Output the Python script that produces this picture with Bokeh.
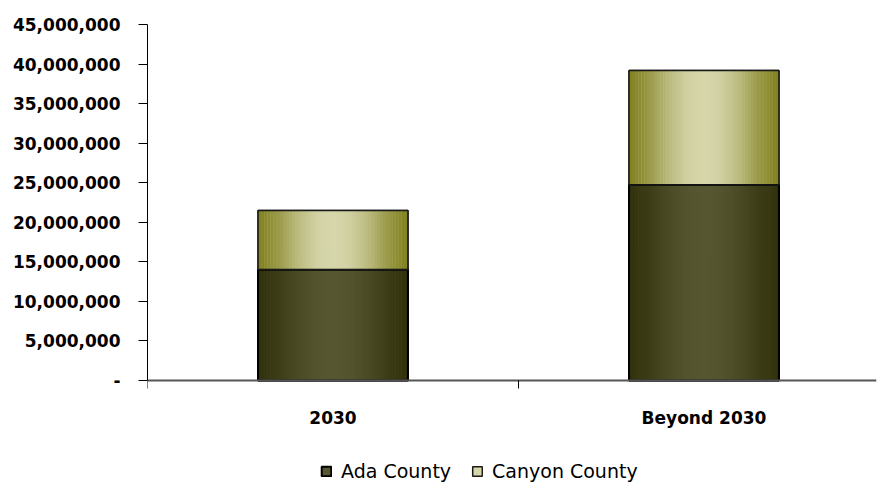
import math
from bokeh.plotting import figure
from bokeh.models import (ColumnDataSource, Range1d, FixedTicker, LinearAxis,
                          NumeralTickFormatter, Legend, LegendItem)
from bokeh.embed import file_html
from bokeh.resources import INLINE

# ---- data ----
categories = ["2030", "Beyond 2030"]
ada_county = [14000000, 24700000]
canyon_county = [7500000, 14500000]
series_names = ["Ada County", "Canyon County"]
y_ticks = [0, 5000000, 10000000, 15000000, 20000000, 25000000,
           30000000, 35000000, 40000000, 45000000]
Y_MAX = 45000000

# ---- styling / layout ----
AX_FONT = "DejaVu Sans"
LEG_FONT = "DejaVu Sans"
W, H = 878, 490
TOP, LEFT = 24, 147
ZERO_PX = 380            # pixel row of the value axis' zero line
BAR_W = 0.404
N_STRIPES = 48
ADA_EDGE, ADA_MID = (0x32, 0x32, 0x0c), (0x56, 0x56, 0x30)
CAN_EDGE, CAN_MID = (0x82, 0x82, 0x22), (0xd6, 0xd6, 0xab)

def hexcol(c):
    return "#%02x%02x%02x" % tuple(int(round(v)) for v in c)

def shade(edge, mid, u):
    f = math.sin(math.pi * u) ** 1.4
    return hexcol([e + (m - e) * f for e, m in zip(edge, mid)])

xc = [i + 0.5 for i in range(len(categories))]
tops = [a + c for a, c in zip(ada_county, canyon_county)]

units_per_px = Y_MAX / (ZERO_PX - TOP)
y_min = -(H - ZERO_PX) * units_per_px

p = figure(width=W, height=H, output_backend="svg", toolbar_location=None,
           x_range=Range1d(0, 1.965), y_range=Range1d(y_min, Y_MAX),
           min_border_left=LEFT, min_border_right=2, min_border_top=TOP,
           min_border_bottom=0, x_axis_type=None, y_axis_type=None)
p.outline_line_color = None
p.background_fill_color = "white"
p.border_fill_color = "white"

p.ygrid.ticker = FixedTicker(ticks=y_ticks)
p.ygrid.grid_line_color = "#a6a6a6"
p.ygrid.grid_line_width = 1
p.xgrid.grid_line_color = None

# base bars (used by legend)
base = ColumnDataSource(dict(x=xc, ada=ada_county, top=tops))
r_ada = p.vbar(x="x", width=BAR_W, bottom=0, top="ada", source=base,
               fill_color=hexcol(ADA_MID), line_color="black", line_width=2)
r_can = p.vbar(x="x", width=BAR_W, bottom="ada", top="top", source=base,
               fill_color=hexcol(CAN_MID), line_color="#1a1a1a", line_width=1.5)

# gradient stripes
sx, sw, sb, st, scol = [], [], [], [], []
sw_unit = BAR_W / N_STRIPES
for k, x in enumerate(xc):
    for i in range(N_STRIPES):
        u = (i + 0.5) / N_STRIPES
        cx = x - BAR_W / 2 + (i + 0.5) * sw_unit
        sx += [cx, cx]
        sw += [sw_unit * 1.08, sw_unit * 1.08]
        sb += [0, ada_county[k]]
        st += [ada_county[k], tops[k]]
        scol += [shade(ADA_EDGE, ADA_MID, u), shade(CAN_EDGE, CAN_MID, u)]
stripes = ColumnDataSource(dict(x=sx, w=sw, b=sb, t=st, c=scol))
p.vbar(x="x", width="w", bottom="b", top="t", fill_color="c", line_color=None,
       source=stripes)

# outlines on top
p.vbar(x="x", width=BAR_W, bottom=0, top="ada", source=base,
       fill_alpha=0, line_color="black", line_width=2)
p.vbar(x="x", width=BAR_W, bottom="ada", top="top", source=base,
       fill_alpha=0, line_color="#1a1a1a", line_width=1.5)

# y axis
yax = LinearAxis(ticker=FixedTicker(ticks=y_ticks),
                 formatter=NumeralTickFormatter(format="0,0"),
                 bounds=(0, Y_MAX))
yax.major_label_overrides = {0: "-"}
yax.major_label_text_font = AX_FONT
yax.major_label_text_font_style = "bold"
yax.major_label_text_font_size = "17px"
yax.major_label_text_color = "black"
yax.major_tick_in = 0
yax.major_tick_out = 9
yax.minor_tick_out = 0
yax.minor_tick_in = 0
yax.major_label_standoff = 18
yax.axis_line_color = "black"
yax.major_tick_line_color = "black"
p.add_layout(yax, "left")

# x axis at zero: labels at centers, ticks at category boundaries
xax = LinearAxis(ticker=FixedTicker(ticks=xc, minor_ticks=[0, 1, 2]),
                 fixed_location=0)
xax.major_label_overrides = {x: c for x, c in zip(xc, categories)}
xax.major_label_text_font = AX_FONT
xax.major_label_text_font_style = "bold"
xax.major_label_text_font_size = "17px"
xax.major_label_text_color = "black"
xax.major_tick_out = 0
xax.major_tick_in = 0
xax.minor_tick_out = 8
xax.minor_tick_in = 0
xax.minor_tick_line_color = "black"
xax.major_label_standoff = 19
xax.axis_line_color = "#555555"
xax.axis_line_width = 2
p.add_layout(xax, "below")

legend = Legend(items=[LegendItem(label=series_names[0], renderers=[r_ada]),
                       LegendItem(label=series_names[1], renderers=[r_can])],
                orientation="horizontal", location=(173, 8))
legend.label_text_font = LEG_FONT
legend.label_text_font_size = "19px"
legend.label_text_color = "black"
legend.border_line_color = None
legend.background_fill_alpha = 0
legend.glyph_width = 12
legend.glyph_height = 12
legend.spacing = 20
legend.label_standoff = 9
legend.margin = 0
legend.padding = 4
p.add_layout(legend, "center")

open("out.html", "w").write(file_html(p, INLINE))
